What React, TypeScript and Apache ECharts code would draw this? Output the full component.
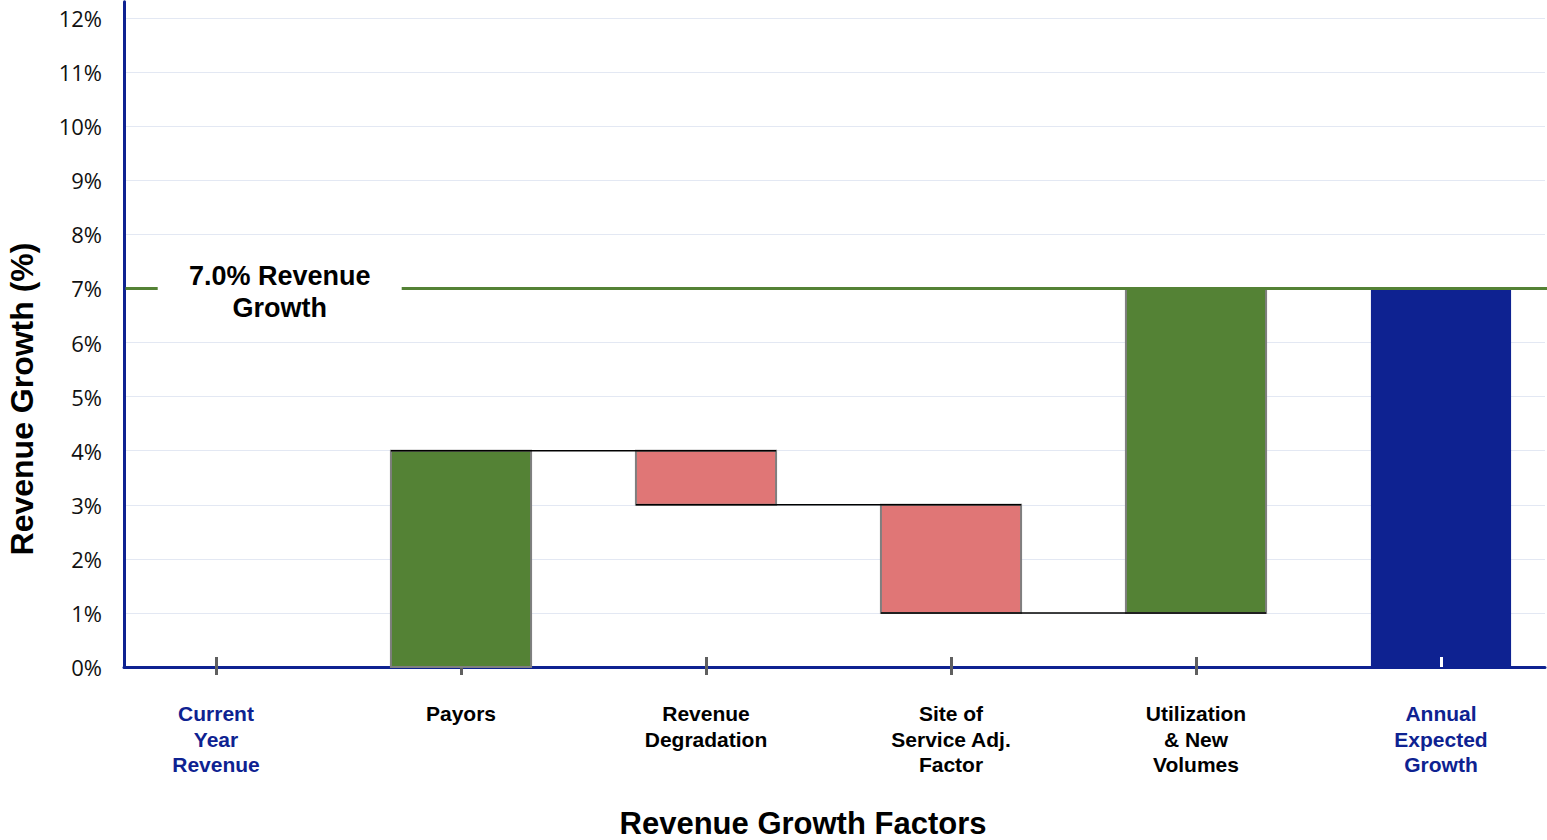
import React, { useEffect, useRef } from "react";
import * as echarts from "echarts";

// ---- Data ----
const categories = [
  "Current\nYear\nRevenue",
  "Payors",
  "Revenue\nDegradation",
  "Site of\nService Adj.\nFactor",
  "Utilization\n& New\nVolumes",
  "Annual\nExpected\nGrowth",
];
const currentYearBase = 0;
const factorChanges = [4, -1, -2, 6]; // Payors, Revenue Degradation, Site of Service, Utilization
const annualExpectedGrowth = 7;
const targetGrowth = 7;
const targetLabel = "7.0% Revenue\nGrowth";
const yTickValues = [0, 1, 2, 3, 4, 5, 6, 7, 8, 9, 10, 11, 12];
const yAxisTitle = "Revenue Growth (%)";
const xAxisTitle = "Revenue Growth Factors";

// ---- Styles ----
const GREEN = "#548235";
const RED = "#E07676";
const BLUE = "#0E2291";
const BAR_FRAC = 0.572;
const X_MIN = -0.3755;
const X_MAX = 5.4245;
const LABEL_X = 0.26;
const FONT = "'Liberation Sans', Arial, sans-serif";

export default function App() {
  const ref = useRef<HTMLDivElement>(null);

  useEffect(() => {
    document.body.style.margin = "0";
    if (!ref.current) return;
    const chart = echarts.init(ref.current, undefined, { renderer: "svg" });

    const bars: any[] = [];
    const connectors: any[] = [];
    let running = currentYearBase;
    factorChanges.forEach((c, k) => {
      const idx = k + 1;
      const lo = Math.min(running, running + c);
      const hi = Math.max(running, running + c);
      bars.push([idx, lo, hi, c >= 0 ? 1 : -1]);
      running += c;
      if (k < factorChanges.length - 1) connectors.push([idx, running]);
    });
    bars.push([categories.length - 1, 0, annualExpectedGrowth, 0]);

    const tickIdx = categories.map((_, i) => i);

    const baseX = {
      type: "value",
      min: X_MIN,
      max: X_MAX,
      position: "bottom",
      splitLine: { show: false },
    };

    chart.setOption({
      animation: false,
      grid: {
        left: 124,
        right: 2,
        top: 1.8,
        bottom: 840 - 667,
        containLabel: false,
        outerBoundsMode: "none",
      },
      xAxis: [
        {
          ...baseX,
          axisLine: { show: true, onZero: false, lineStyle: { color: BLUE, width: 3 } },
          axisTick: {
            show: true,
            customValues: tickIdx.slice(0, 5),
            length: 8,
            lineStyle: { color: "#5f5f5f", width: 3 },
          },
          axisLabel: {
            show: true,
            customValues: tickIdx,
            formatter: (v: number) => categories[Math.round(v)] ?? "",
            color: (v: any) => {
              const i = Math.round(Number(v));
              return i === 0 || i === categories.length - 1 ? BLUE : "#000";
            },
            fontFamily: FONT,
            fontWeight: "bold",
            fontSize: 21,
            lineHeight: 25.5,
            margin: 34,
          },
        },
        {
          ...baseX,
          axisLine: { show: false, onZero: false },
          axisLabel: { show: false },
          axisTick: {
            show: true,
            inside: true,
            customValues: tickIdx.slice(0, 5),
            length: 10,
            lineStyle: { color: "#5f5f5f", width: 3 },
          },
        },
        {
          ...baseX,
          z: 10,
          axisLine: { show: false, onZero: false },
          axisLabel: { show: false },
          axisTick: {
            show: true,
            inside: true,
            customValues: [categories.length - 1],
            length: 10,
            lineStyle: { color: "#ffffff", width: 3 },
          },
        },
      ],
      yAxis: {
        type: "value",
        min: 0,
        max: 12.3,
        interval: 1,
        axisLine: { show: true, onZero: false, lineStyle: { color: BLUE, width: 3 } },
        axisTick: { show: false },
        axisLabel: {
          formatter: (v: number) => (yTickValues.includes(v) ? `${v}%` : ""),
          showMaxLabel: false,
          margin: 22,
          fontFamily: "Open Sans, sans-serif",
          fontSize: 22,
          color: "#111",
        },
        splitLine: {
          show: true,
          showMaxLine: false,
          lineStyle: { color: "#E3E8F3", width: 1 },
        },
      },
      graphic: [
        {
          type: "text",
          x: 803,
          y: 823,
          style: {
            text: xAxisTitle,
            fill: "#000",
            font: `bold 31px ${FONT}`,
            textAlign: "center",
            textVerticalAlign: "middle",
          },
        },
        {
          type: "text",
          x: 22,
          y: 399,
          rotation: Math.PI / 2,
          style: {
            text: yAxisTitle,
            fill: "#000",
            font: `bold 32px ${FONT}`,
            textAlign: "center",
            textVerticalAlign: "middle",
          },
        },
      ],
      series: [
        {
          type: "custom",
          xAxisIndex: 0,
          encode: { x: 0, y: [1, 2] },
          data: bars,
          z: 2,
          renderItem: (params: any, api: any) => {
            const i = api.value(0);
            const lo = api.value(1);
            const hi = api.value(2);
            const kind = api.value(3);
            const half = BAR_FRAC / 2;
            const p0 = api.coord([i - half, hi]);
            const p1 = api.coord([i + half, lo]);
            const fill = kind === 0 ? BLUE : kind > 0 ? GREEN : RED;
            return {
              type: "rect",
              shape: { x: p0[0], y: p0[1], width: p1[0] - p0[0], height: p1[1] - p0[1] },
              style: {
                fill,
                stroke: kind === 0 ? null : "#7f7f7f",
                lineWidth: kind === 0 ? 0 : 2,
              },
            };
          },
        },
        {
          type: "custom",
          xAxisIndex: 0,
          encode: { x: 0, y: 1 },
          data: connectors,
          z: 3,
          renderItem: (params: any, api: any) => {
            const i = api.value(0);
            const lv = api.value(1);
            const half = BAR_FRAC / 2;
            const a = api.coord([i - half, lv]);
            const b = api.coord([i + 1 + half, lv]);
            return {
              type: "line",
              shape: { x1: a[0], y1: a[1], x2: b[0], y2: b[1] },
              style: { stroke: "#000", lineWidth: 1.5 },
            };
          },
        },
        {
          type: "custom",
          xAxisIndex: 0,
          encode: { x: 0, y: 1 },
          data: [[LABEL_X, targetGrowth]],
          z: 4,
          renderItem: (params: any, api: any) => {
            const cs = params.coordSys;
            const p = api.coord([api.value(0), api.value(1)]);
            return {
              type: "group",
              children: [
                {
                  type: "line",
                  shape: { x1: cs.x + 1.5, y1: p[1], x2: cs.x + cs.width + 2, y2: p[1] },
                  style: { stroke: GREEN, lineWidth: 3 },
                },
                {
                  type: "rect",
                  shape: { x: p[0] - 122, y: p[1] - 30, width: 244, height: 68 },
                  style: { fill: "#fff" },
                },
                {
                  type: "text",
                  x: p[0],
                  y: p[1] + 4,
                  style: {
                    text: targetLabel,
                    fill: "#000",
                    font: `bold 27px ${FONT}`,
                    lineHeight: 32,
                    align: "center",
                    verticalAlign: "middle",
                  },
                },
              ],
            };
          },
        },
      ],
    });

    return () => chart.dispose();
  }, []);

  return <div ref={ref} style={{ width: 1547, height: 840 }} />;
}
